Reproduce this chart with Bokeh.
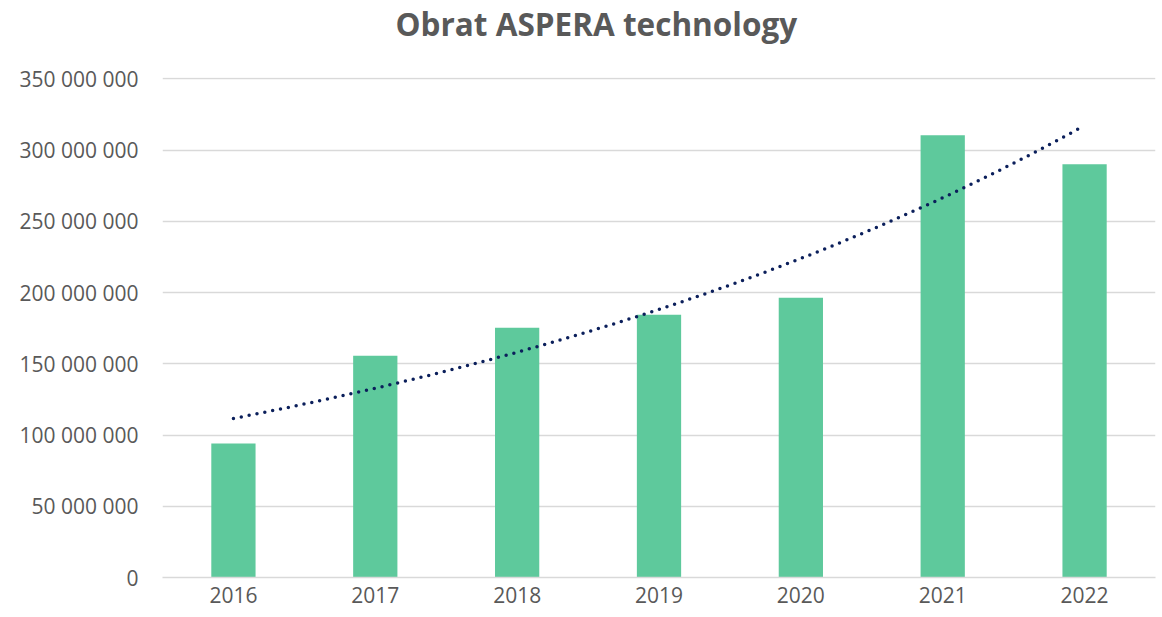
import numpy as np
from bokeh.plotting import figure
from bokeh.models import Range1d, FactorRange, FixedTicker, ColumnDataSource, Title
from bokeh.embed import file_html
from bokeh.resources import INLINE

# --- data ---
years = ["2016", "2017", "2018", "2019", "2020", "2021", "2022"]
turnover = [94_000_000, 155_700_000, 175_300_000, 184_400_000, 196_400_000, 310_400_000, 290_100_000]
y_ticks = [0, 50_000_000, 100_000_000, 150_000_000, 200_000_000, 250_000_000, 300_000_000, 350_000_000]
title_text = "Obrat ASPERA technology"

TEXT = "#595959"
GRID = "#D9D9D9"
BAR = "#5EC99C"
TREND = "#0B1F5B"
FONT = "Open Sans"

p = figure(
    width=1160, height=615,
    x_range=FactorRange(*years, range_padding=0),
    y_range=Range1d(0, 351_000_000),
    output_backend="svg", toolbar_location=None,
    min_border_left=162, min_border_right=5, min_border_top=77, min_border_bottom=38,
)
p.outline_line_color = None
p.background_fill_color = "white"
p.border_fill_color = "white"

src = ColumnDataSource(dict(year=years, value=turnover))
p.vbar(x="year", top="value", width=0.312, source=src, fill_color=BAR, line_color=None)

# exponential trendline fitted to the data (Excel-style)
idx = np.arange(len(years))
b, a = np.polyfit(idx, np.log(turnover), 1)
tx = np.linspace(0, len(years) - 1, 200)
ty = np.exp(a + b * tx)
p.line(tx + 0.5, ty, line_color=TREND, line_width=3.5, line_dash="0 8", line_cap="round")

# real title (outermost in the top panel)
p.title.text = title_text
p.title.text_font = FONT
p.title.text_font_style = "bold"
p.title.text_font_size = "31.5px"
p.title.text_color = TEXT
p.title.align = "left"
p.title.offset = 233
p.title.standoff = 0
p.title.vertical_align = "top"

# spacer between the title and the plot frame
p.add_layout(Title(text=" ", text_font_size="1px", standoff=28), "above")

# grid
p.xgrid.grid_line_color = None
p.ygrid.grid_line_color = GRID
p.ygrid.grid_line_width = 1.5
p.ygrid.ticker = FixedTicker(ticks=y_ticks)

# y axis
p.yaxis.ticker = FixedTicker(ticks=y_ticks)
p.yaxis.major_label_overrides = {v: f"{v:,}".replace(",", " ") for v in y_ticks}
p.yaxis.axis_line_color = None
p.yaxis.major_tick_line_color = None
p.yaxis.minor_tick_line_color = None
p.yaxis.major_tick_out = 0
p.yaxis.major_tick_in = 0
p.yaxis.major_label_standoff = 24
p.yaxis.major_label_text_font = FONT
p.yaxis.major_label_text_font_size = "21px"
p.yaxis.major_label_text_color = TEXT

# x axis
p.xaxis.axis_line_color = GRID
p.xaxis.axis_line_width = 1.5
p.xaxis.major_tick_line_color = None
p.xaxis.major_tick_out = 0
p.xaxis.major_tick_in = 0
p.xaxis.major_label_standoff = 9
p.xaxis.major_label_text_font = FONT
p.xaxis.major_label_text_font_size = "21px"
p.xaxis.major_label_text_color = TEXT

open("out.html", "w").write(file_html(p, INLINE))
